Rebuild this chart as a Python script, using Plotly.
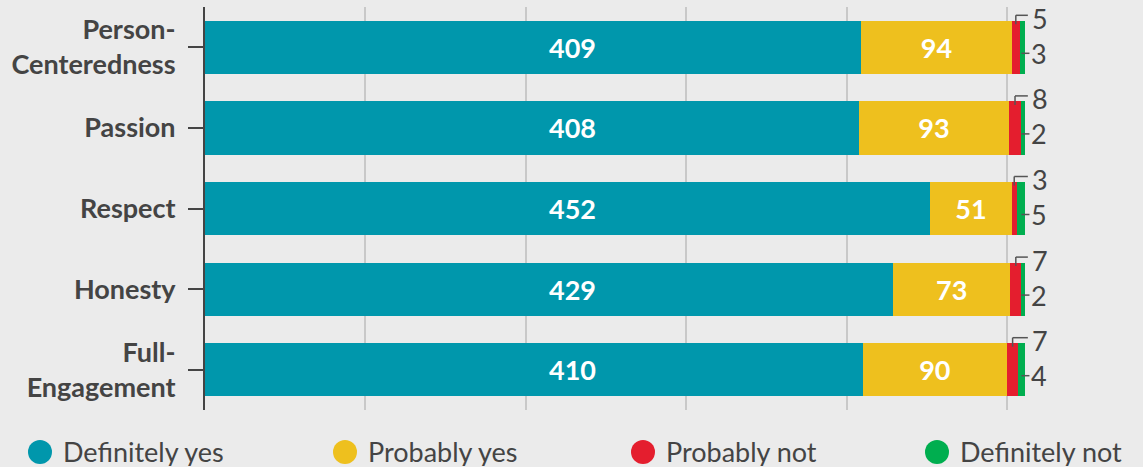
import plotly.graph_objects as go

categories = ["Person-<br>Centeredness", "Passion", "Respect", "Honesty", "Full-<br>Engagement"]
series_names = ["Definitely yes", "Probably yes", "Probably not", "Definitely not"]
definitely_yes = [409, 408, 452, 429, 410]
probably_yes = [94, 93, 51, 73, 90]
probably_not = [5, 8, 3, 7, 7]
definitely_not = [3, 2, 5, 2, 4]
grid_ticks = [0, 100, 200, 300, 400, 500]

colors = ["#0097AC", "#EEC01E", "#E41E2E", "#00AE4F"]
series = [definitely_yes, probably_yes, probably_not, definitely_not]

FONT = "Lato"
TXT = "#444444"
BG = "#EBEBEB"
FS = 27
FIRST_LABEL_X = 229  # where the first series' labels sit (styling)

totals = [sum(v) for v in zip(*series)]
xmax = max(totals) * 1.12
ypos = list(range(len(categories)))

fig = go.Figure()
for k, (name, vals, col) in enumerate(zip(series_names, series, colors)):
    texts = [str(v) if (v >= 20 and k > 0) else "" for v in vals]
    fig.add_trace(go.Bar(
        y=ypos, x=vals, name=name, orientation="h",
        marker=dict(color=col, line=dict(width=0)),
        text=texts, textposition="inside", insidetextanchor="middle",
        textfont=dict(family=FONT, size=FS, color="white", weight=700),
        showlegend=False, hoverinfo="x+name",
    ))

px_per_cat = 403 / len(categories)
shapes = []
annotations = []
for i in ypos:
    annotations.append(dict(x=FIRST_LABEL_X, y=i, xref="x", yref="y",
                            text=str(definitely_yes[i]), showarrow=False,
                            xanchor="center", yanchor="middle",
                            font=dict(family=FONT, size=FS, color="white", weight=700)))
    base_red = definitely_yes[i] + probably_yes[i]
    red_c = base_red + probably_not[i] / 2
    tot = totals[i]
    y_top = i - 32 / px_per_cat
    # elbow for "probably not"
    shapes.append(dict(type="line", xref="x", yref="y", x0=red_c, x1=red_c,
                       y0=i - 23 / px_per_cat, y1=y_top,
                       line=dict(color="#555555", width=1.5)))
    shapes.append(dict(type="line", xref="x", yref="y", x0=red_c, x1=tot + 2,
                       y0=y_top, y1=y_top, line=dict(color="#555555", width=1.5)))
    # short line for "definitely not"
    y_g = i + 6 / px_per_cat
    shapes.append(dict(type="line", xref="x", yref="y", x0=tot - 2, x1=tot + 3,
                       y0=y_g, y1=y_g, line=dict(color="#555555", width=1.5)))
    annotations.append(dict(x=tot, y=i, xref="x", yref="y", text=str(probably_not[i]),
                            showarrow=False, xanchor="left", yanchor="middle",
                            xshift=5, yshift=29,
                            font=dict(family=FONT, size=FS, color=TXT)))
    annotations.append(dict(x=tot, y=i, xref="x", yref="y", text=str(definitely_not[i]),
                            showarrow=False, xanchor="left", yanchor="middle",
                            xshift=4, yshift=-6,
                            font=dict(family=FONT, size=FS, color=TXT)))

# custom legend with circles
legend_x = [40, 345, 643, 937]
W, H = 1143, 467
for lx, name, col in zip(legend_x, series_names, colors):
    shapes.append(dict(type="circle", xref="paper", yref="paper",
                       x0=(lx - 12 - 205) / 918, x1=(lx + 12 - 205) / 918,
                       y0=-(440 - 410) / 403, y1=-(464 - 410) / 403,
                       fillcolor=col, line=dict(width=0)))
    annotations.append(dict(x=(lx + 21 - 205) / 918, y=-(451 - 410) / 403,
                            xref="paper", yref="paper", text=name, showarrow=False,
                            xanchor="left", yanchor="middle", height=30, valign="middle",
                            font=dict(family=FONT, size=FS, color=TXT)))

fig.update_layout(
    barmode="stack", bargap=0.34,
    width=W, height=H,
    margin=dict(l=205, r=20, t=7, b=57),
    paper_bgcolor=BG, plot_bgcolor=BG,
    shapes=shapes, annotations=annotations,
    font=dict(family=FONT, color=TXT),
)
fig.update_xaxes(range=[0, xmax], autorange=False, tickvals=grid_ticks + [xmax],
                 showticklabels=False,
                 showgrid=True, gridcolor="#C8C8C8", gridwidth=2, zeroline=False,
                 showline=False, fixedrange=True, automargin=False)
fig.update_yaxes(tickvals=ypos, ticktext=categories, autorange=False,
                 range=[len(categories) - 0.5, -0.5],
                 showline=True, linecolor="#444444", linewidth=2,
                 ticks="outside", ticklen=15, tickwidth=2, tickcolor="#444444",
                 ticklabelstandoff=7, automargin=False,
                 tickfont=dict(family=FONT, size=FS, color=TXT, weight=700),
                 showgrid=False, zeroline=False, fixedrange=True)

fig.write_html("out.html", config={"displayModeBar": False},
               post_script="document.body.style.margin='0px';document.body.style.overflow='hidden';")
